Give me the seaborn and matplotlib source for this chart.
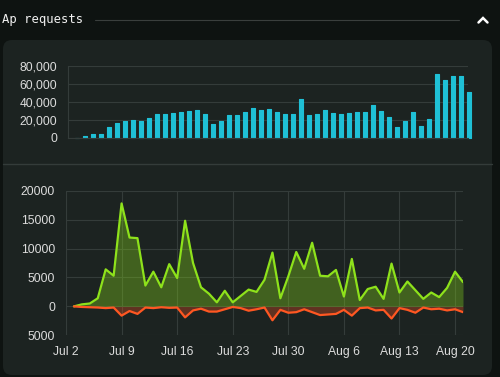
import numpy as np
import pandas as pd
import seaborn as sns
import matplotlib.pyplot as plt
from matplotlib.patches import FancyBboxPatch
from matplotlib.ticker import FuncFormatter

# daily request counts (top bars), Jul 3 .. Aug 21
requests = [0, 2000, 3700, 4000, 11500, 16000, 18600, 19700, 18600, 22300,
            26400, 26800, 27200, 29000, 30100, 30900, 26000, 15300, 19000, 24900,
            24900, 28300, 33500, 31300, 31600, 28700, 26800, 26000, 42800, 25700,
            26800, 30900, 27500, 26800, 27500, 28700, 28300, 36500, 29400, 22700,
            11500, 19000, 28300, 13000, 20500, 71000, 64000, 68500, 69200, 50600]

# change series (bottom chart)
gained = [0, 350, 500, 1400, 6400, 5300, 17800, 11900, 11800, 3600,
          6000, 3300, 7300, 4900, 14800, 7500, 3300, 2200, 700, 2700,
          700, 1800, 2900, 2500, 4600, 9300, 1400, 5200, 9400, 6500,
          11000, 5300, 5200, 6300, 1700, 8200, 1100, 3000, 3400, 1300,
          7400, 2400, 4300, 2800, 1300, 2400, 1600, 3200, 6000, 4200]
lost = [0, -100, -150, -200, -300, -200, -1600, -800, -1300, -200,
        -300, -150, -250, -200, -1900, -700, -400, -900, -900, -500,
        -100, -300, -750, -500, -200, -2400, -600, -1100, -1000, -500,
        -1000, -1500, -1400, -1300, -600, -1600, -300, -200, -700, -600,
        -2100, -300, -600, -1100, -200, -500, -400, -700, -500, -1000]

dates = pd.date_range("2018-07-03", periods=len(gained))
tick_dates = pd.to_datetime(["2018-07-02", "2018-07-09", "2018-07-16", "2018-07-23",
                             "2018-07-30", "2018-08-06", "2018-08-13", "2018-08-20"])
tick_labels = ["Jul 2", "Jul 9", "Jul 16", "Jul 23", "Jul 30", "Aug 6", "Aug 13", "Aug 20"]

bg = "#0e1311"
card = "#1c2321"
grid = "#343c3a"
text = "#dcdcdc"
cyan = "#1fc0d6"
green = "#8ee21b"
orange = "#ff5722"

sns.set_theme(style="dark")
plt.rcParams['font.family'] = ['Liberation Sans', 'DejaVu Sans']

fig = plt.figure(figsize=(5, 3.77), dpi=100, facecolor=bg)

# header + card background
fig.text(2 / 500, 1 - 20 / 377, "Ap requests", family="DejaVu Sans Mono", fontsize=8.8,
         color="#f0f0f0", va="center", ha="left")
fig.add_artist(plt.Line2D([95 / 500, 459 / 500], [1 - 19.5 / 377] * 2, color="#3a3f3d", lw=0.8))
# collapse chevron
fig.add_artist(plt.Line2D([478.5 / 500, 483 / 500, 487.5 / 500],
                          [1 - 22.5 / 377, 1 - 18 / 377, 1 - 22.5 / 377],
                          color="white", lw=1.8, solid_capstyle="round", solid_joinstyle="miter"))
fig.add_artist(FancyBboxPatch((3 / 500, 1 - 375 / 377), 489 / 500, 335 / 377,
                              boxstyle="round,pad=0,rounding_size=0.018",
                              transform=fig.transFigure, facecolor=card, edgecolor="none",
                              mutation_aspect=500 / 377, zorder=-1))
fig.add_artist(plt.Line2D([3 / 500, 492 / 500], [1 - 164.3 / 377] * 2, color=grid, lw=1))

# top: bar chart
ax1 = fig.add_axes([68 / 500, 1 - 137.7 / 377, 400 / 500, 71.7 / 377])
ax1.set_facecolor(card)
sns.barplot(x=[d.strftime("%m-%d") for d in dates], y=requests, ax=ax1, color=cyan,
            width=0.62, saturation=1)
for p in ax1.patches:
    p.set_edgecolor(cyan)
    p.set_linewidth(0.8)
    p.set_joinstyle("round")
    p.set_clip_on(False)
ax1.set_xlim(-1.125, 48.875)
ax1.set_ylim(0, 80000)
ax1.set_yticks([0, 20000, 40000, 60000, 80000])
ax1.yaxis.set_major_formatter(FuncFormatter(lambda v, _: f"{int(v):,}"))
ax1.set_xticks([])
ax1.set_xlabel("")
ax1.grid(axis="y", color=grid, lw=0.8)
ax1.grid(axis="x", visible=False)
for s in ["top", "right"]:
    ax1.spines[s].set_visible(False)
for s in ["left", "bottom"]:
    ax1.spines[s].set_color(grid)
    ax1.spines[s].set_linewidth(0.8)
ax1.tick_params(axis="y", colors=grid, labelcolor=text, labelsize=8.7, length=7, width=0.8, pad=1)

# bottom: gained / lost area lines
ax2 = fig.add_axes([66 / 500, 1 - 335.3 / 377, 397 / 500, 144.6 / 377])
ax2.set_facecolor(card)
ax2.fill_between(dates, gained, 0, color=green, alpha=0.33, lw=0)
ax2.fill_between(dates, lost, 0, color=orange, alpha=0.3, lw=0)
sns.lineplot(x=dates, y=gained, ax=ax2, color=green, lw=1.6)
sns.lineplot(x=dates, y=lost, ax=ax2, color=orange, lw=1.6)
ax2.set_xlim(pd.Timestamp("2018-07-02"), pd.Timestamp("2018-08-21"))
ax2.set_ylim(-5000, 20000)
ax2.set_yticks([-5000, 0, 5000, 10000, 15000, 20000])
ax2.yaxis.set_major_formatter(FuncFormatter(lambda v, _: f"{abs(int(v))}"))
ax2.set_xticks(tick_dates)
ax2.set_xticklabels(tick_labels)
ax2.set_xlabel("")
ax2.set_ylabel("")
ax2.grid(True, color=grid, lw=0.8)
for s in ax2.spines.values():
    s.set_visible(False)
ax2.tick_params(axis="both", colors=grid, labelcolor=text, labelsize=8.7, length=7, width=0.8, pad=1)

fig.savefig("out.png", dpi=100, facecolor=bg)
